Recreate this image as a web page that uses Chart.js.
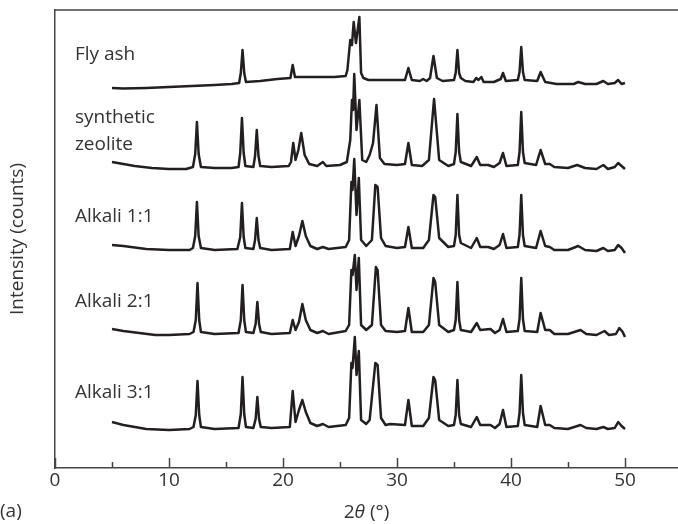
<!DOCTYPE html>
<html>
<head>
<meta charset="utf-8">
<script src="https://cdn.jsdelivr.net/npm/chart.js@4.4.0/dist/chart.umd.min.js"></script>
<style>
  html, body { margin: 0; padding: 0; background: #fff; }
</style>
</head>
<body>
<canvas id="myChart" width="678" height="524"></canvas>
<script>
// Sample names (top to bottom) and the vertical offset of each stacked pattern
var names = ["Fly ash", "synthetic zeolite", "Alkali 1:1", "Alkali 2:1", "Alkali 3:1"];
var offsets = [388, 303, 220, 136, 42];

// [2theta, intensity above own baseline]
var flyAsh = [[5,-8],[6,-8.5],[8,-8],[10,-7],[12,-6],[14,-5],[15.5,-4],[16.15,-3],[16.3,7],[16.45,30],[16.6,7],[16.75,-2],[18,-1],[19.5,1],[20.65,2],[20.85,15],[21.05,3],[23,3],[24.5,3],[25.5,4],[25.65,10],[25.9,40],[26.05,35],[26.2,58],[26.4,37],[26.7,63],[26.85,7],[27.05,2],[27.5,0],[29,0],[30.7,0],[31.0,12],[31.3,0],[32.0,-1],[32.3,1],[32.6,-1],[32.9,2],[33.2,24],[33.5,2],[34,-1],[35.0,0],[35.15,7],[35.3,30],[35.45,7],[35.6,2],[36,-1],[36.7,-2],[36.95,2],[37.15,0],[37.4,3],[37.6,-2],[38.5,-2],[39.1,1],[39.3,7],[39.55,-1],[40.6,0],[40.75,8],[40.9,33],[41.05,8],[41.2,0],[42.3,-1],[42.6,8],[43,-2],[44,-4],[45.5,-4],[45.9,-2],[46.5,-4],[47.5,-4],[48.1,-1],[48.5,-4],[49.1,-3],[49.4,0],[49.7,-4],[50,-3]];
var synZeolite = [[5,3],[6,1],[7,-1],[8.5,-3],[10,-4],[11.5,-4],[12.1,-2],[12.3,11],[12.45,43],[12.6,11],[12.8,-2],[14,-3],[15.5,-3],[16.1,-2],[16.25,12],[16.4,47],[16.55,12],[16.7,-1],[17.4,-2],[17.55,9],[17.7,35],[17.85,9],[18.0,-1],[19,-2],[20.5,-1],[20.7,3],[20.9,22],[21.1,5],[21.35,15],[21.6,32],[21.9,10],[22.3,1],[23,-1],[23.5,3],[23.8,-1],[25,0],[25.6,3],[25.9,25],[26.05,65],[26.15,55],[26.25,91],[26.45,35],[26.7,65],[26.95,5],[27.3,3],[27.6,10],[27.9,22],[28.2,60],[28.5,7],[28.9,1],[30,0],[30.7,1],[31.0,22],[31.3,0],[32.2,-1],[32.8,5],[33.25,66],[33.7,5],[34.5,-1],[35.0,1],[35.15,13],[35.3,51],[35.45,13],[35.6,3],[36.5,-1],[37.0,8],[37.3,0],[38.0,0],[38.5,-2],[39.0,2],[39.3,12],[39.6,-1],[40.6,0],[40.75,13],[40.9,53],[41.05,13],[41.2,2],[42.2,0],[42.6,15],[43.0,1],[43.4,1],[43.8,-2],[45,-3],[45.8,0],[46.5,-3],[47.5,-4],[48.1,0],[48.5,-4],[49.1,-2],[49.4,2],[49.7,-1],[50,-4]];
var alkali11 = [[5,3],[6,2],[8,-1],[10,-2],[11.8,-2],[12.1,0],[12.3,12],[12.45,46],[12.6,12],[12.8,0],[14,-2],[16.0,-1],[16.25,11],[16.4,45],[16.55,11],[16.7,0],[17.4,-1],[17.55,8],[17.7,30],[17.85,8],[18.0,0],[19,-2],[20.6,-1],[20.85,16],[21.1,2],[21.4,12],[21.7,27],[22.0,12],[22.4,2],[23,-1],[23.5,1],[24,-1],[25.5,1],[25.8,8],[26.0,66],[26.1,58],[26.25,89],[26.45,33],[26.65,70],[26.85,8],[27.3,2],[27.8,8],[28.1,63],[28.3,61],[28.6,10],[29,2],[30,0],[30.7,1],[31.0,21],[31.3,0],[32.3,0],[32.8,8],[33.2,53],[33.35,51],[33.7,10],[34.5,1],[35.0,2],[35.15,13],[35.3,53],[35.45,13],[35.6,5],[36.5,0],[37.0,10],[37.3,1],[38,1],[38.5,-1],[39.0,3],[39.3,14],[39.6,0],[40.6,1],[40.75,13],[40.9,53],[41.05,13],[41.2,2],[42.2,0],[42.6,17],[43.0,2],[43.4,1],[43.8,-2],[45,-2],[45.9,2],[46.5,-2],[47.5,-3],[48.1,0],[48.5,-3],[49.1,-2],[49.4,3],[49.7,0],[50,-5]];
var alkali21 = [[5,3],[6,1],[8.8,-3],[10,-3],[11.8,-2],[12.15,0],[12.35,12],[12.5,49],[12.65,12],[12.8,0],[14,-2],[16.1,-1],[16.3,12],[16.45,47],[16.6,12],[16.75,0],[17.4,-1],[17.6,8],[17.75,30],[17.9,8],[18.05,0],[19,-2],[20.6,-1],[20.85,12],[21.1,2],[21.4,10],[21.7,28],[22.0,12],[22.4,2],[23,-1],[23.5,1],[24,-2],[25.5,1],[25.8,7],[26.0,62],[26.1,57],[26.3,77],[26.45,42],[26.65,74],[26.85,7],[27.3,2],[27.8,7],[28.15,65],[28.3,62],[28.6,7],[29,1],[30,0],[30.7,1],[31.0,24],[31.3,0],[32.3,0],[32.8,7],[33.2,54],[33.35,50],[33.7,7],[34.5,0],[35.0,2],[35.15,12],[35.3,50],[35.45,12],[35.6,2],[36.5,0],[37.0,9],[37.3,2],[38.2,3],[38.6,-1],[39.0,2],[39.3,13],[39.6,0],[40.6,1],[40.75,13],[40.9,54],[41.05,13],[41.2,1],[42.3,0],[42.6,19],[43.0,2],[43.4,2],[43.8,-2],[45,-2],[46.1,2],[46.6,-2],[47.5,-3],[48.2,1],[48.6,-3],[49.2,-2],[49.5,4],[49.8,0],[50,-5]];
var alkali31 = [[5,4],[6,1],[8,-3],[10,-4],[11.8,-3],[12.15,-1],[12.35,11],[12.5,45],[12.65,11],[12.8,-1],[14,-3],[16.1,-2],[16.3,12],[16.45,49],[16.6,12],[16.75,-1],[17.4,-2],[17.6,7],[17.75,29],[17.9,7],[18.05,-1],[19,-2],[20.6,-1],[20.85,35],[21.1,4],[21.4,16],[21.7,26],[22.0,14],[22.4,3],[23,0],[23.5,2],[24,-1],[25.5,1],[25.8,8],[26.0,63],[26.1,58],[26.3,89],[26.45,51],[26.65,75],[26.85,6],[27.3,2],[27.6,6],[28.1,63],[28.3,61],[28.6,8],[29,1],[29.4,2],[30.7,1],[31.0,26],[31.3,0],[32.3,0],[32.8,8],[33.2,49],[33.35,46],[33.7,6],[34.5,0],[35.0,1],[35.15,11],[35.3,46],[35.45,11],[35.6,2],[36.5,-1],[37.0,9],[37.3,1],[38.2,1],[38.6,-2],[39.0,2],[39.3,16],[39.6,-1],[40.6,0],[40.75,13],[40.9,51],[41.05,13],[41.2,1],[42.3,-1],[42.6,20],[43.0,1],[43.4,1],[43.8,-2],[45,-3],[46.1,1],[46.6,-2],[47.5,-3],[48.1,-1],[48.5,-3],[49.1,-2],[49.4,4],[49.7,0],[50,-3]];
var series = [flyAsh, synZeolite, alkali11, alkali21, alkali31];

// x axis ticks (major carry labels, minor are bare marks)
var majorTicks = [0, 10, 20, 30, 40, 50];
var minorTicks = [5, 15, 25, 35, 45];

// sample name labels: text lines and where they sit (2theta, intensity)
var labelLines = ["Fly ash", "synthetic", "zeolite", "Alkali 1:1", "Alkali 2:1", "Alkali 3:1"];
var labelX = 1.75;
var labelY = [413, 350, 323, 251, 166, 75];

var FONT = '"Open Sans", "Noto Sans", sans-serif';

var datasets = series.map(function (pts, i) {
    return {
        label: names[i],
        data: pts.map(function (p) { return { x: p[0], y: p[1] + offsets[i] }; }),
        borderColor: '#231f20',
        borderWidth: 2.5,
        borderJoinStyle: 'round',
        pointRadius: 0,
        fill: false,
        tension: 0
    };
});

// extra drawing: top frame line, inward tick marks, sample names, x title, panel letter
var decor = {
    id: 'decor',
    afterDraw: function (chart) {
        var ctx = chart.ctx, a = chart.chartArea;
        var sx = chart.scales.x, sy = chart.scales.y;
        ctx.save();
        ctx.strokeStyle = '#444';
        ctx.lineWidth = 1.5;
        ctx.beginPath();
        ctx.moveTo(a.left, a.top);
        ctx.lineTo(chart.width, a.top);
        ctx.stroke();

        ctx.beginPath();
        majorTicks.forEach(function (v) {
            var px = Math.round(sx.getPixelForValue(v)) + 0.5;
            ctx.moveTo(px, a.bottom); ctx.lineTo(px, a.bottom - 10);
        });
        minorTicks.forEach(function (v) {
            var px = Math.round(sx.getPixelForValue(v)) + 0.5;
            ctx.moveTo(px, a.bottom); ctx.lineTo(px, a.bottom - 6);
        });
        ctx.stroke();

        ctx.fillStyle = '#333';
        ctx.font = '19px ' + FONT;
        ctx.textBaseline = 'middle';
        ctx.textAlign = 'left';
        labelLines.forEach(function (t, i) {
            ctx.fillText(t, sx.getPixelForValue(labelX), sy.getPixelForValue(labelY[i]));
        });

        // 2θ (°) with italic theta
        var parts = [['2', '19px '], ['θ', 'italic 19px '], [' (°)', '19px ']];
        var w = 0;
        parts.forEach(function (p) { ctx.font = p[1] + FONT; w += ctx.measureText(p[0]).width; });
        var cx = (a.left + a.right) / 2 - w / 2, ty = 513;
        parts.forEach(function (p) {
            ctx.font = p[1] + FONT;
            ctx.fillText(p[0], cx, ty);
            cx += ctx.measureText(p[0]).width;
        });

        ctx.font = '19px ' + FONT;
        ctx.fillText('(a)', 0, 512);
        ctx.restore();
    }
};

var ctx = document.getElementById('myChart').getContext('2d');
var myChart = new Chart(ctx, {
    type: 'line',
    data: { datasets: datasets },
    options: {
        responsive: false,
        animation: false,
        devicePixelRatio: 1,
        layout: { padding: { top: 10, right: 0, bottom: 0, left: 0 } },
        plugins: {
            legend: { display: false },
            tooltip: { enabled: false }
        },
        scales: {
            x: {
                type: 'linear',
                min: 0,
                max: 54.65,
                afterFit: function (s) { s.height = 56; },
                grid: { display: false, drawTicks: false },
                border: { display: true, color: '#444', width: 1.5 },
                ticks: {
                    stepSize: 10,
                    includeBounds: false,
                    autoSkip: false,
                    maxRotation: 0,
                    padding: 1,
                    color: '#333',
                    font: { family: FONT, size: 19 }
                }
            },
            y: {
                type: 'linear',
                min: 0,
                max: 458,
                afterFit: function (s) { s.width = 55; },
                grid: { display: false, drawTicks: false },
                border: { display: true, color: '#444', width: 1.5 },
                ticks: { display: false },
                title: {
                    display: true,
                    text: 'Intensity (counts)',
                    color: '#333',
                    padding: { top: 6, bottom: 0 },
                    font: { family: FONT, size: 19 }
                }
            }
        }
    },
    plugins: [decor]
});
</script>
</body>
</html>
